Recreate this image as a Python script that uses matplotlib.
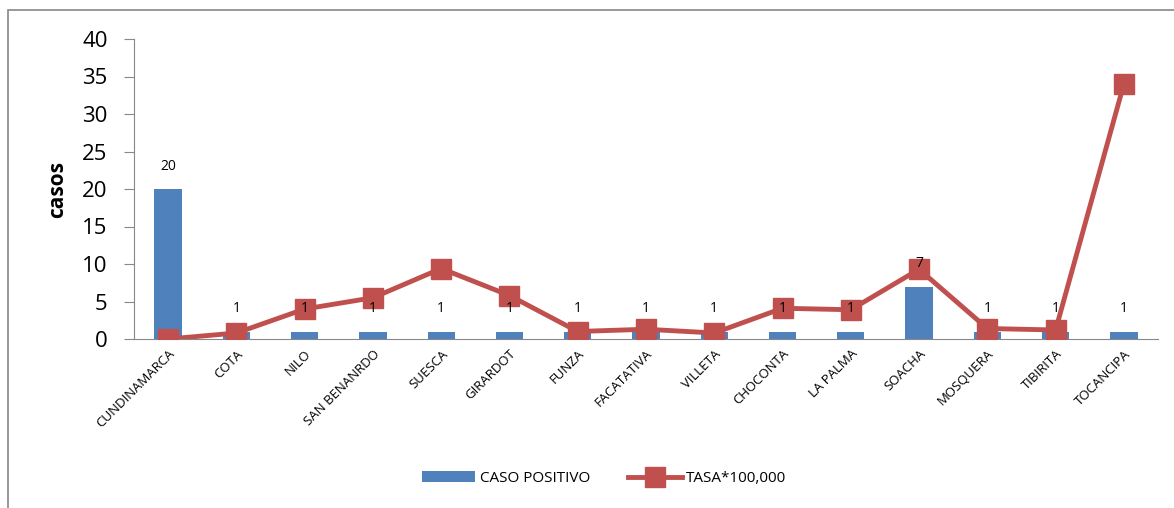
import matplotlib
matplotlib.use("Agg")
import matplotlib.pyplot as plt
from matplotlib.patches import Rectangle

# ---------------------------------------------------------------------------
# data
# ---------------------------------------------------------------------------
municipios = ["CUNDINAMARCA", "COTA", "NILO", "SAN BENANRDO", "SUESCA",
              "GIRARDOT", "FUNZA", "FACATATIVA", "VILLETA", "CHOCONTA",
              "LA PALMA", "SOACHA", "MOSQUERA", "TIBIRITA", "TOCANCIPA"]
caso_positivo = [20, 1, 1, 1, 1, 1, 1, 1, 1, 1, 1, 7, 1, 1, 1]
tasa = [0.0, 0.8, 4.0, 5.5, 9.4, 5.8, 1.0, 1.3, 0.8, 4.1, 3.9, 9.3, 1.4, 1.2, 34.0]

BLUE = "#4F81BD"
RED = "#C0504D"
plt.rcParams["font.family"] = ["Open Sans", "DejaVu Sans"]

fig = plt.figure(figsize=(11.74, 5.08), dpi=100)
ax = fig.add_axes([134/1174, 1 - 339/508, (1158-134)/1174, 300/508])

x = list(range(len(municipios)))
bars = ax.bar(x, caso_positivo, width=0.4, color=BLUE, label="CASO POSITIVO", zorder=2)
for xi, v in zip(x, caso_positivo):
    ax.annotate(str(v), (xi, v), xytext=(0, 11), textcoords="offset points",
                ha="center", va="bottom", fontsize=10, zorder=5)

line, = ax.plot(x, tasa, color=RED, lw=3.5, marker="s", markersize=14,
                label="TASA*100,000", zorder=3)

ax.set_xlim(-0.5, len(municipios) - 0.5)
ax.set_ylim(0, 40)
ax.set_yticks(range(0, 41, 5))
ax.tick_params(axis="y", labelsize=16, length=7, color="#888888", pad=12)
ax.tick_params(axis="x", length=0, pad=6)
ax.set_xticks(x)
ax.set_xticklabels(municipios, rotation=45, ha="right", rotation_mode="anchor",
                   fontsize=9.5)
for s in ["top", "right"]:
    ax.spines[s].set_visible(False)
for s in ["left", "bottom"]:
    ax.spines[s].set_color("#888888")
ax.set_ylabel("casos", fontsize=15, fontweight="bold", labelpad=10)

ax.legend([bars, line], ["CASO POSITIVO", "TASA*100,000"],
          loc="center", bbox_to_anchor=(0.459, -0.465), ncol=2, frameon=False,
          fontsize=11, handlelength=3.5, handletextpad=0.3, columnspacing=2.5)

# outer chart border
fig.patches.append(Rectangle((8/1174, -0.01), 1.05, 1 - 10/508 + 0.01,
                             transform=fig.transFigure, fill=False,
                             edgecolor="#888888", lw=1.2))

fig.savefig("out.png", dpi=100)
